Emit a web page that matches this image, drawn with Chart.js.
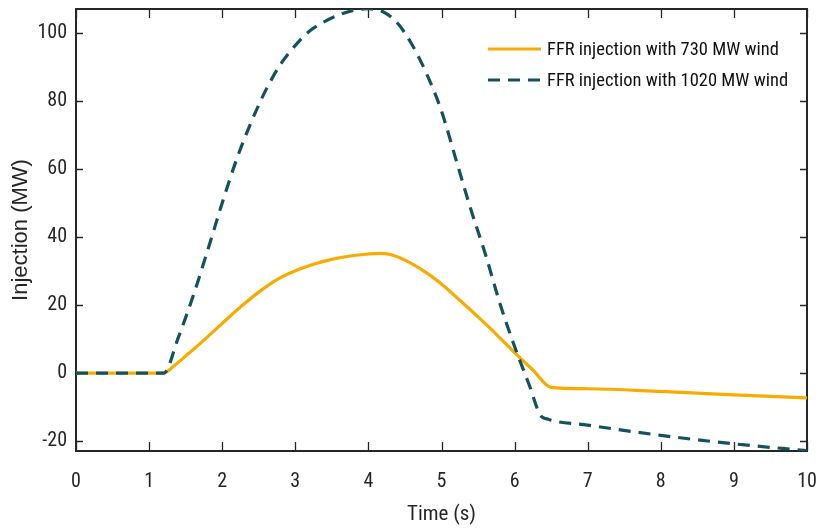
<!DOCTYPE html>
<html>
<head>
<meta charset="utf-8">
<script src="https://cdn.jsdelivr.net/npm/chart.js@4/dist/chart.umd.min.js"></script>
<style>
  html, body { margin: 0; padding: 0; background: #fff; }
  #wrap { width: 818px; height: 530px; }
</style>
</head>
<body>
<div id="wrap"><canvas id="c" width="818" height="530"></canvas></div>
<script>
// ---- data ----
const seriesNames = ['FFR injection with 730 MW wind', 'FFR injection with 1020 MW wind'];

const time730 = [0, 1.2, 1.35, 1.5, 1.75, 2.0, 2.25, 2.5, 2.75, 3.0, 3.25, 3.5, 3.75, 4.0, 4.15, 4.3, 4.5, 4.75, 5.0, 5.25, 5.5, 5.75, 6.0, 6.25, 6.5, 7.0, 8.0, 9.0, 10.0];
const inj730  = [0, 0, 2.3, 5.0, 9.7, 14.6, 19.4, 23.8, 27.5, 30.1, 32.0, 33.4, 34.4, 35.0, 35.2, 34.85, 33.2, 30.1, 26.2, 21.4, 16.5, 11.4, 6.0, 0.9, -4.2, -4.6, -5.4, -6.4, -7.3];

const time1020 = [0, 1.2, 1.4, 1.6, 1.8, 2.0, 2.2, 2.4, 2.6, 2.8, 3.0, 3.2, 3.4, 3.6, 3.8, 4.0, 4.2, 4.4, 4.6, 4.8, 5.0, 5.2, 5.4, 5.6, 5.8, 6.0, 6.2, 6.35, 6.45, 7.0, 8.0, 9.0, 10.0];
const inj1020  = [0, 0, 10.5, 22.5, 36, 50, 63, 73.9, 83.3, 90.8, 96.3, 100.6, 103.3, 105.3, 106.6, 107.1, 106.2, 102.8, 96.4, 87.8, 77, 62.6, 48.2, 35, 20.4, 7.8, -3.5, -12.3, -13.5, -15.3, -18.3, -20.8, -22.8];

const xTicks = [0, 1, 2, 3, 4, 5, 6, 7, 8, 9, 10];
const yTicks = [-20, 0, 20, 40, 60, 80, 100];

const xTitle = 'Time (s)';
const yTitle = 'Injection (MW)';

// ---- styles ----
const colors = ['#F9AB00', '#13535F'];
const narrow = "'Liberation Sans Narrow', 'Arial Narrow', 'Roboto Condensed', sans-serif";
const axisColor = '#262626';

function pairs(xs, ys) { return xs.map((x, i) => ({ x: x, y: ys[i] })); }

const framePlugin = {
  id: 'frame',
  beforeDatasetsDraw(chart) {
    const { ctx, chartArea: a, scales } = chart;
    ctx.save();
    ctx.strokeStyle = axisColor;
    ctx.lineWidth = 1.3;
    ctx.beginPath();
    xTicks.forEach(v => {
      const px = Math.round(scales.x.getPixelForValue(v)) + 0.5;
      ctx.moveTo(px, a.bottom); ctx.lineTo(px, a.bottom - 9);
      ctx.moveTo(px, a.top); ctx.lineTo(px, a.top + 9);
    });
    yTicks.forEach(v => {
      const py = Math.round(scales.y.getPixelForValue(v)) + 0.5;
      ctx.moveTo(a.left, py); ctx.lineTo(a.left + 7, py);
      ctx.moveTo(a.right, py); ctx.lineTo(a.right - 7, py);
    });
    ctx.stroke();
    ctx.lineWidth = 2;
    ctx.strokeRect(a.left, a.top, a.right - a.left, a.bottom - a.top);
    ctx.restore();
  },
  afterDraw(chart) {
    const { ctx } = chart;
    ctx.save();
    const rows = [49, 80];
    chart.data.datasets.forEach((ds, i) => {
      const y = rows[i];
      ctx.strokeStyle = ds.borderColor;
      ctx.lineWidth = 3.2;
      ctx.setLineDash(ds.borderDash || []);
      ctx.lineCap = 'butt';
      ctx.beginPath();
      ctx.moveTo(488, y); ctx.lineTo(541, y);
      ctx.stroke();
      ctx.setLineDash([]);
      ctx.fillStyle = '#111';
      ctx.font = "18.5px " + narrow;
      ctx.textBaseline = 'middle';
      ctx.textAlign = 'left';
      ctx.fillText(ds.label, 547, y + 1);
    });
    ctx.restore();
  }
};

new Chart(document.getElementById('c'), {
  type: 'line',
  data: {
    datasets: [
      {
        label: seriesNames[0],
        data: pairs(time730, inj730),
        borderColor: colors[0],
        borderWidth: 3.2,
        pointRadius: 0,
        cubicInterpolationMode: 'monotone',
        order: 1
      },
      {
        label: seriesNames[1],
        data: pairs(time1020, inj1020),
        borderColor: colors[1],
        borderWidth: 3.2,
        borderDash: [12, 8],
        pointRadius: 0,
        cubicInterpolationMode: 'monotone',
        order: 0
      }
    ]
  },
  options: {
    responsive: false,
    animation: false,
    devicePixelRatio: 1,
    layout: { padding: { left: 0, right: 11, top: 9, bottom: 0 } },
    plugins: { legend: { display: false }, tooltip: { enabled: false } },
    scales: {
      x: {
        type: 'linear',
        min: 0, max: 10,
        afterBuildTicks: s => { s.ticks = xTicks.map(v => ({ value: v })); },
        afterFit: s => { s.height = 79; s.paddingLeft = 0; s.paddingRight = 0; },
        grid: { display: false, drawTicks: false },
        border: { display: false },
        ticks: { color: axisColor, font: { family: narrow, size: 20 }, padding: 19, maxRotation: 0 },
        title: { display: true, text: xTitle, color: axisColor, font: { family: narrow, size: 21 }, padding: { top: 7, bottom: 3 } }
      },
      y: {
        type: 'linear',
        min: -22.9, max: 107,
        afterBuildTicks: s => { s.ticks = yTicks.map(v => ({ value: v })); },
        afterFit: s => { s.width = 76; s.paddingTop = 0; s.paddingBottom = 0; },
        grid: { display: false, drawTicks: false },
        border: { display: false },
        ticks: { color: axisColor, font: { family: narrow, size: 20 }, padding: 9 },
        title: { display: true, text: yTitle, color: axisColor, font: { family: "'Liberation Sans', Arial, sans-serif", size: 22 }, padding: { top: 8, bottom: 0 } }
      }
    }
  },
  plugins: [framePlugin]
});
</script>
</body>
</html>
